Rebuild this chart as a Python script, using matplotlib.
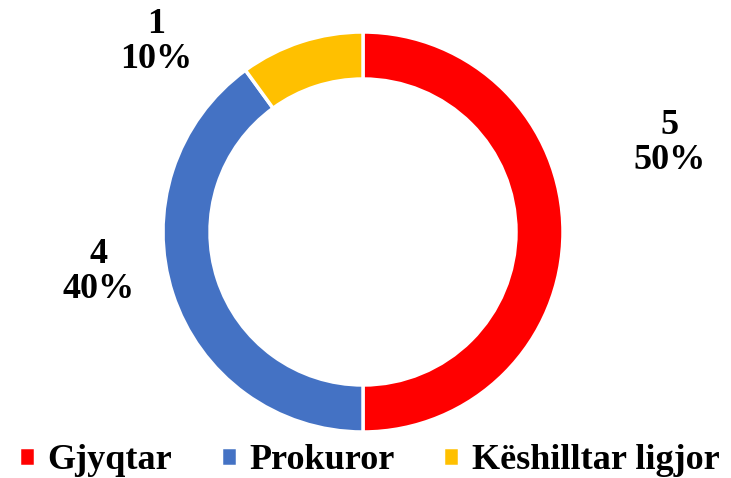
import matplotlib.pyplot as plt

# data
categories = ["Gjyqtar", "Prokuror", "Këshilltar ligjor"]
counts = [5, 4, 1]
colors = ["#FF0000", "#4472C4", "#FFC000"]

plt.rcParams['font.family'] = ['Liberation Serif', 'DejaVu Serif']

fig = plt.figure(figsize=(7.31, 4.78), dpi=100)
ax = fig.add_axes([0, 0, 1, 1])

total = sum(counts)
wedges, _ = ax.pie(counts, colors=colors, startangle=90, counterclock=False,
                   center=(363, 246), radius=200, frame=True,
                   wedgeprops=dict(width=47, edgecolor='white', linewidth=2.5))
ax.set_xlim(0, 731)
ax.set_ylim(0, 478)
ax.set_aspect('equal')
ax.axis('off')

# data labels
label_pos = [(670, 335), (99, 206), (156, 436)]
for c, (x, y) in zip(counts, label_pos):
    ax.text(x, y, f"{c}\n{round(c / total * 100)}%", ha='center', va='center',
            fontsize=26, fontweight='bold', linespacing=1.1)

fig.legend(wedges, categories, loc='center', ncol=3, frameon=False,
           bbox_to_anchor=(0.505, 0.036), prop=dict(size=26, weight='bold'),
           handlelength=0.45, handleheight=0.45, handletextpad=0.35,
           columnspacing=1.33, borderpad=0)

fig.savefig("out.png", dpi=100)
